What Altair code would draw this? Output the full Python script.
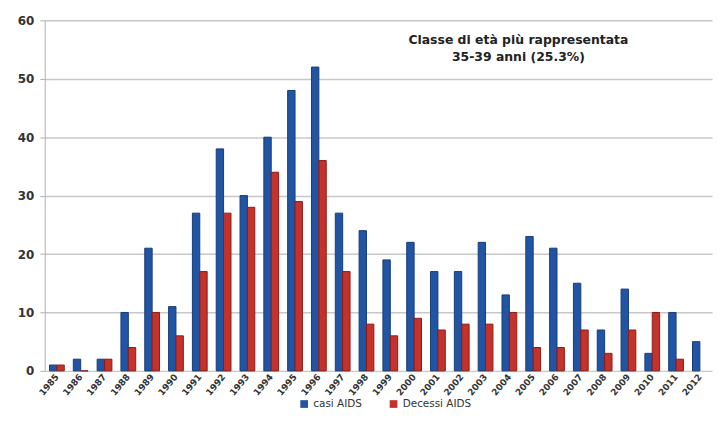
import altair as alt
import pandas as pd

years = [str(y) for y in range(1985, 2013)]
casi = [1, 2, 2, 10, 21, 11, 27, 38, 30, 40, 48, 52, 27, 24, 19, 22, 17, 17, 22, 13, 23, 21, 15, 7, 14, 3, 10, 5]
decessi = [1, 0, 2, 4, 10, 6, 17, 27, 28, 34, 29, 36, 17, 8, 6, 9, 7, 8, 8, 10, 4, 4, 7, 3, 7, 10, 2, None]
series = ["casi AIDS", "Decessi  AIDS"]
colors = ["#2155a3", "#c3322b"]
strokes = ["#163c78", "#8c1c16"]
note = "Classe di età più rappresentata\n35-39 anni (25.3%)"

rows = []
for i, y in enumerate(years):
    rows.append({"anno": y, "serie": series[0], "valore": casi[i]})
    rows.append({"anno": y, "serie": series[1], "valore": decessi[i]})
df = pd.DataFrame(rows)

bars = alt.Chart(df).mark_bar(strokeWidth=1).encode(
    x=alt.X("anno:N", sort=years, title=None,
            scale=alt.Scale(paddingInner=0.38, paddingOuter=0.2),
            axis=alt.Axis(labelAngle=-50, labelFontSize=9, labelFont="DejaVu Sans",
                          labelFontWeight="bold", labelColor="#333333", ticks=False,
                          domain=False, labelPadding=4)),
    xOffset=alt.XOffset("serie:N", sort=series),
    y=alt.Y("valore:Q", title=None,
            scale=alt.Scale(domain=[0, 60]),
            axis=alt.Axis(values=[0, 10, 20, 30, 40, 50, 60], labelFontSize=12,
                          labelFont="DejaVu Sans", labelFontWeight="bold",
                          labelColor="#333333", gridColor="#c8c8c8", gridWidth=1.5,
                          domainColor="#b0b0b0", tickColor="#b0b0b0", tickSize=5,
                          labelPadding=6)),
    color=alt.Color("serie:N", sort=series,
                    scale=alt.Scale(domain=series, range=colors),
                    legend=alt.Legend(orient="none", legendX=256, legendY=381,
                                      direction="horizontal", title=None,
                                      symbolType="square", symbolSize=60,
                                      labelFontSize=10.5, labelFont="DejaVu Sans",
                                      labelColor="#333333", columnPadding=26,
                                      symbolStrokeWidth=0)),
    stroke=alt.Stroke("serie:N", sort=series,
                      scale=alt.Scale(domain=series, range=strokes), legend=None),
)

text_df = pd.DataFrame({"t": [note]})
txt = alt.Chart(text_df).mark_text(fontWeight="bold", fontSize=12.5, font="DejaVu Sans",
                                   color="#222222", align="center", baseline="middle",
                                   lineBreak="\n", lineHeight=17).encode(
    text="t:N",
    x=alt.value(477),
    y=alt.value(20),
)

chart = alt.layer(bars, txt).properties(
    width=672, height=353,
    padding={"left": 9, "top": 5, "right": 5, "bottom": 5},
).configure_view(stroke=None).configure_axisX(grid=False).properties(background="white")

chart.save("out.html", embed_options={"renderer": "svg", "actions": False})
